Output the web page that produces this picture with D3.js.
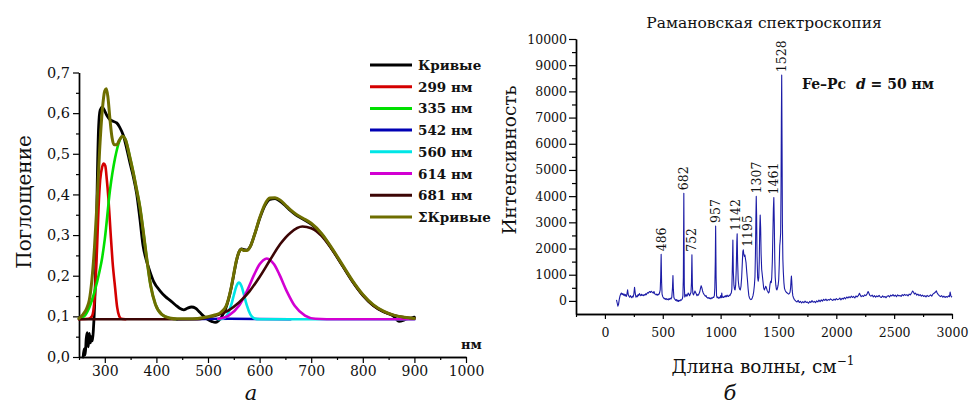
<!DOCTYPE html>
<html><head><meta charset="utf-8">
<script src="https://cdn.jsdelivr.net/npm/d3@7"></script>
<style>
body{margin:0;background:#fff}
svg{display:block}
text{font-family:"DejaVu Serif",serif;fill:#111}
</style>
</head><body>
<svg id="c" width="969" height="405"></svg>
<script>
// ---------------- DATA: left panel (absorption) ----------------
const absTicksX = [300,400,500,600,700,800,900,1000];
const absTicksY = [0,0.1,0.2,0.3,0.4,0.5,0.6,0.7];
const legendLabels = ["Кривые","299 нм","335 нм","542 нм","560 нм","614 нм","681 нм","ΣКривые"];

const curveMeasured = [[258,0.0],[260,0.02],[262,0.005],[264,0.045],[266,0.06],[268,0.025],[270,0.058],[272,0.035],[274,0.05],[276,0.04],[278,0.07],[280,0.12],[282,0.2],[284,0.33],[286,0.47],[288,0.565],[291,0.607],[295,0.615],[300,0.605],[305,0.592],[310,0.584],[316,0.58],[323,0.576],[329,0.565],[336,0.545],[342,0.515],[349,0.476],[355,0.445],[362,0.40],[368,0.34],[374,0.275],[380,0.24],[387,0.212],[395,0.185],[407,0.163],[418,0.148],[426,0.14],[437,0.128],[445,0.12],[453,0.116],[460,0.12],[468,0.123],[476,0.12],[484,0.11],[492,0.1],[500,0.092],[508,0.087],[514,0.085],[520,0.089],[527,0.1],[534,0.118],[545,0.17],[550,0.203],[555,0.236],[560,0.258],[565,0.266],[570,0.264],[575,0.263],[582,0.272],[590,0.3],[600,0.34],[610,0.372],[620,0.388],[630,0.39],[640,0.383],[650,0.372],[660,0.36],[670,0.35],[683,0.34],[700,0.327],[720,0.302],[740,0.266],[760,0.226],[780,0.186],[800,0.152],[820,0.127],[840,0.111],[860,0.1],[870,0.088],[878,0.09],[885,0.094],[893,0.095],[900,0.098]];
const curve299 = [[250,0.093],[268,0.094],[275,0.1],[280,0.14],[285,0.27],[288,0.37],[291,0.435],[295,0.468],[298,0.476],[301,0.47],[304,0.435],[307,0.39],[311,0.31],[315,0.235],[320,0.17],[324,0.122],[328,0.1],[332,0.094],[340,0.093]];
const curve335 = [[250,0.094],[260,0.1],[270,0.122],[280,0.16],[290,0.212],[295,0.245],[300,0.29],[310,0.41],[320,0.49],[328,0.53],[334,0.543],[340,0.535],[348,0.495],[355,0.455],[362,0.41],[368,0.37],[375,0.305],[380,0.255],[389,0.175],[398,0.13],[411,0.104],[425,0.096],[440,0.093]];
const curve542 = [[440,0.093],[542,0.094],[660,0.093]];
const curve560 = [[520,0.093],[530,0.095],[538,0.105],[545,0.128],[550,0.152],[555,0.174],[560,0.183],[565,0.174],[570,0.152],[575,0.128],[582,0.105],[590,0.095],[600,0.093],[900,0.093]];
const curve614 = [[520,0.094],[540,0.102],[560,0.126],[575,0.161],[590,0.204],[600,0.228],[607,0.238],[614,0.2425],[621,0.238],[628,0.228],[638,0.204],[653,0.161],[668,0.126],[688,0.102],[708,0.094],[730,0.093],[900,0.093]];
const curve681 = [[250,0.093],[480,0.093],[500,0.098],[520,0.104],[540,0.115],[560,0.134],[580,0.161],[600,0.197],[620,0.238],[640,0.278],[660,0.306],[683,0.321],[700,0.317],[720,0.298],[740,0.265],[760,0.226],[780,0.186],[800,0.152],[820,0.127],[840,0.112],[860,0.103],[880,0.098],[900,0.095]];
const curveSum = [[250,0.095],[258,0.105],[265,0.12],[270,0.14],[275,0.19],[280,0.27],[285,0.38],[290,0.51],[295,0.605],[300,0.655],[303,0.66],[306,0.64],[310,0.585],[314,0.54],[318,0.522],[323,0.522],[328,0.533],[334,0.543],[340,0.535],[348,0.495],[355,0.455],[362,0.41],[368,0.37],[375,0.305],[380,0.255],[389,0.175],[398,0.13],[411,0.104],[425,0.096],[440,0.094],[460,0.094],[480,0.095],[500,0.099],[515,0.104],[525,0.11],[535,0.125],[545,0.171],[550,0.205],[555,0.237],[560,0.258],[565,0.265],[570,0.262],[575,0.262],[582,0.272],[590,0.3],[600,0.342],[610,0.375],[620,0.391],[630,0.392],[640,0.386],[650,0.374],[660,0.362],[670,0.352],[683,0.342],[700,0.329],[720,0.304],[740,0.268],[760,0.228],[780,0.188],[800,0.154],[820,0.129],[840,0.113],[860,0.103],[880,0.098],[900,0.095]];

// ---------------- DATA: right panel (Raman) ----------------
const ramanTicksX = [0,500,1000,1500,2000,2500,3000];
const ramanTicksY = [0,1000,2000,3000,4000,5000,6000,7000,8000,9000,10000];
const ramanPeaks = [486,682,752,957,1142,1195,1307,1461,1528];
const ramanSpectrum = [[100,40],[106,-80],[112,-200],[118,-120],[124,60],[130,180],[136,260],[142,300],[148,240],[154,280],[160,220],[166,260],[172,200],[178,240],[184,170],[190,250],[196,420],[202,230],[208,180],[214,140],[220,200],[226,160],[232,120],[238,180],[244,150],[250,260],[256,520],[262,300],[268,140],[274,190],[280,160],[286,240],[292,200],[298,280],[304,230],[310,200],[316,250],[322,210],[328,230],[334,200],[340,240],[346,220],[352,270],[358,240],[364,290],[370,320],[376,300],[382,340],[388,360],[394,320],[400,370],[406,340],[412,330],[418,300],[424,360],[430,280],[436,250],[442,230],[448,260],[454,220],[460,250],[466,240],[472,300],[478,420],[482,900],[486,1780],[490,700],[494,260],[500,160],[506,120],[512,80],[518,100],[524,60],[530,90],[536,50],[542,70],[548,40],[554,90],[560,60],[566,100],[572,80],[578,140],[584,500],[588,970],[592,420],[596,140],[600,90],[606,60],[612,20],[618,50],[624,-10],[630,30],[636,-20],[642,20],[648,0],[654,40],[660,30],[666,60],[670,90],[674,200],[678,900],[682,4110],[686,600],[690,150],[696,200],[702,250],[708,180],[714,220],[720,300],[726,250],[732,200],[738,260],[744,330],[748,700],[752,1760],[756,600],[760,280],[766,230],[772,300],[778,380],[784,320],[790,260],[796,200],[802,240],[808,220],[814,280],[820,350],[826,480],[832,580],[838,500],[844,380],[850,300],[856,250],[862,220],[868,180],[874,200],[880,140],[886,120],[892,100],[898,130],[904,90],[910,110],[916,80],[922,120],[928,100],[934,140],[940,130],[946,200],[950,500],[954,1500],[957,2860],[961,900],[965,200],[970,120],[976,150],[982,100],[988,130],[994,110],[1000,200],[1006,120],[1010,300],[1014,140],[1020,150],[1026,130],[1032,180],[1038,150],[1044,200],[1050,160],[1056,220],[1062,180],[1068,170],[1074,220],[1080,200],[1086,260],[1092,300],[1097,450],[1102,1400],[1106,2320],[1110,1100],[1115,600],[1120,450],[1125,420],[1130,600],[1135,1200],[1140,2250],[1143,2560],[1147,1500],[1152,800],[1158,550],[1164,450],[1170,420],[1176,550],[1182,900],[1188,1500],[1192,1880],[1196,1950],[1200,1800],[1205,1700],[1210,1750],[1215,1600],[1220,1450],[1226,1100],[1232,800],[1238,450],[1244,200],[1250,110],[1256,70],[1262,50],[1268,60],[1274,120],[1280,200],[1286,350],[1292,600],[1297,930],[1301,1800],[1305,3200],[1308,3990],[1311,3300],[1315,1700],[1320,900],[1325,750],[1330,900],[1334,1500],[1338,2700],[1342,3280],[1346,2800],[1350,1800],[1355,1200],[1360,1000],[1366,750],[1372,500],[1378,420],[1384,480],[1390,560],[1396,500],[1402,400],[1408,360],[1414,300],[1420,340],[1426,600],[1432,750],[1438,700],[1442,900],[1447,1500],[1452,2600],[1456,3500],[1460,3950],[1464,3000],[1468,1600],[1472,900],[1477,600],[1482,450],[1487,420],[1492,500],[1497,600],[1502,800],[1507,1400],[1511,2100],[1515,2300],[1519,2600],[1522,4200],[1525,6800],[1528,8620],[1531,6000],[1534,3000],[1538,1600],[1542,1100],[1547,700],[1552,480],[1558,400],[1564,350],[1570,320],[1576,300],[1582,280],[1588,260],[1594,280],[1600,330],[1605,500],[1609,800],[1612,950],[1615,750],[1619,400],[1624,200],[1630,120],[1636,60],[1642,30],[1650,-10],[1660,-40],[1670,20],[1680,-60],[1690,-20],[1700,-80],[1710,-30],[1720,-70],[1730,-10],[1740,-60],[1750,-40],[1760,-90],[1770,-20],[1780,-60],[1790,10],[1800,-50],[1810,-20],[1820,-70],[1830,0],[1840,-40],[1850,30],[1860,-30],[1870,40],[1880,-10],[1890,60],[1900,20],[1910,70],[1920,10],[1930,50],[1940,30],[1950,80],[1960,40],[1970,20],[1980,70],[1990,30],[2000,90],[2010,50],[2020,60],[2030,110],[2040,40],[2050,100],[2060,70],[2070,130],[2080,80],[2090,150],[2100,110],[2110,160],[2120,120],[2130,180],[2140,130],[2150,170],[2160,110],[2170,190],[2180,150],[2190,200],[2200,290],[2208,220],[2215,160],[2225,200],[2235,170],[2245,230],[2255,200],[2265,260],[2275,360],[2282,290],[2290,210],[2300,180],[2310,220],[2320,150],[2330,200],[2340,140],[2350,190],[2360,160],[2370,210],[2380,150],[2390,130],[2400,190],[2410,140],[2420,170],[2430,120],[2440,180],[2450,200],[2460,150],[2470,220],[2480,190],[2490,240],[2500,180],[2510,220],[2520,160],[2530,230],[2540,190],[2550,210],[2560,170],[2570,240],[2580,200],[2590,250],[2600,210],[2610,240],[2620,190],[2630,260],[2640,230],[2650,300],[2660,380],[2668,330],[2675,260],[2685,300],[2695,220],[2705,260],[2715,200],[2725,240],[2735,180],[2745,220],[2755,170],[2765,200],[2775,150],[2785,210],[2795,170],[2805,190],[2815,230],[2825,180],[2835,260],[2845,290],[2855,330],[2865,380],[2872,300],[2880,250],[2890,200],[2900,160],[2910,200],[2920,140],[2930,180],[2940,130],[2950,170],[2960,140],[2970,190],[2978,160],[2984,340],[2990,200],[2996,150],[3000,170]];

// ---------------- STYLES ----------------
const curveColors = ["#000000","#d40000","#00e000","#0000b4","#00e6e6","#d200d2","#3c0505","#6e6e00"];
const curveWidths = [2.8,2.6,2.6,2.6,2.6,2.6,2.6,3];

const svg = d3.select("#c");
svg.append("rect").attr("width",969).attr("height",405).attr("fill","#fff");

function styleAxis(g, size){
  g.select(".domain").attr("stroke","#000").attr("stroke-width",1.4);
  g.selectAll(".tick line").attr("stroke","#000").attr("stroke-width",1.2);
  g.selectAll("text").attr("font-family","DejaVu Serif").attr("font-size",size).attr("fill","#111");
}

// ================= LEFT PANEL =================
const xL = d3.scaleLinear().domain([250,1000]).range([79,466]);
const yL = d3.scaleLinear().domain([0,0.7]).range([357,72.5]);
const gL = svg.append("g");

gL.append("g").attr("transform","translate(0,357)")
  .call(d3.axisBottom(xL).tickValues(d3.range(250,1001,50).filter(v=>v%100!==0)).tickSize(3).tickFormat("").tickSizeOuter(0))
  .call(g=>styleAxis(g,14));
gL.append("g").attr("transform","translate(0,357)")
  .call(d3.axisBottom(xL).tickValues(absTicksX).tickSize(6).tickPadding(3).tickSizeOuter(0).tickFormat(d3.format("d")))
  .call(g=>styleAxis(g,14));
gL.append("g").attr("transform","translate(79,0)")
  .call(d3.axisLeft(yL).tickValues(absTicksY.slice(0,-1).map(v=>v+0.05)).tickSize(3).tickFormat("").tickSizeOuter(0))
  .call(g=>styleAxis(g,14));
gL.append("g").attr("transform","translate(79,0)")
  .call(d3.axisLeft(yL).tickValues(absTicksY).tickSize(6).tickPadding(3).tickSizeOuter(0)
    .tickFormat(d=>d.toFixed(1).replace(".",",")))
  .call(g=>styleAxis(g,14.5));

const lineL = d3.line().x(d=>xL(d[0])).y(d=>yL(d[1])).curve(d3.curveMonotoneX);
const absCurves = [curveMeasured,curve299,curve335,curve542,curve560,curve614,curve681,curveSum];
absCurves.forEach((c,i)=>{
  gL.append("path").attr("d",lineL(c)).attr("fill","none")
    .attr("stroke",curveColors[i]).attr("stroke-width",curveWidths[i])
    .attr("stroke-linejoin","round").attr("stroke-linecap","round");
});

// legend
const leg = gL.append("g");
legendLabels.forEach((lab,i)=>{
  const y = 65 + i*21.7;
  leg.append("line").attr("x1",370).attr("x2",412).attr("y1",y).attr("y2",y)
    .attr("stroke",curveColors[i]).attr("stroke-width",3);
  leg.append("text").attr("x",418).attr("y",y+5).attr("font-size",13.5)
    .attr("font-weight","bold").text(lab);
});

gL.append("text").attr("x",461).attr("y",349).attr("font-size",13).attr("font-weight","bold").text("нм");
gL.append("text").attr("transform","translate(31,202) rotate(-90)").attr("text-anchor","middle")
  .attr("font-size",20).text("Поглощение");
gL.append("text").attr("x",251).attr("y",400).attr("text-anchor","middle")
  .attr("font-size",21).attr("font-style","italic").text("а");

// ================= RIGHT PANEL =================
const xR = d3.scaleLinear().domain([-250,3000]).range([576,952]);
const yR = d3.scaleLinear().domain([-500,10000]).range([314,39]);
const gR = svg.append("g");

gR.append("g").attr("transform","translate(0,314)")
  .call(d3.axisBottom(xR).tickValues(d3.range(-250,3001,250).filter(v=>v%500!==0)).tickSize(3).tickFormat("").tickSizeOuter(0))
  .call(g=>styleAxis(g,12));
gR.append("g").attr("transform","translate(0,314)")
  .call(d3.axisBottom(xR).tickValues(ramanTicksX).tickSize(5).tickPadding(9).tickSizeOuter(0).tickFormat(d3.format("d")))
  .call(g=>styleAxis(g,12.5));
gR.append("g").attr("transform","translate(576,0)")
  .call(d3.axisLeft(yR).tickValues(d3.range(500,10000,1000)).tickSize(4).tickFormat("").tickSizeOuter(0))
  .call(g=>styleAxis(g,12));
gR.append("g").attr("transform","translate(576,0)")
  .call(d3.axisLeft(yR).tickValues(ramanTicksY).tickSize(7).tickPadding(2).tickSizeOuter(0).tickFormat(d3.format("d")))
  .call(g=>styleAxis(g,12.5));

const lineR = d3.line().x(d=>xR(d[0])).y(d=>yR(d[1]));
gR.append("path").attr("d",lineR(ramanSpectrum)).attr("fill","none")
  .attr("stroke","#1c1ca6").attr("stroke-width",1.1).attr("stroke-linejoin","round");

const labelShift = {1142:-2,1195:4};
ramanPeaks.forEach(p=>{
  const near = ramanSpectrum.filter(d=>Math.abs(d[0]-p)<=6);
  const top = d3.max(near,d=>d[1]);
  const x = xR(p)+(labelShift[p]||0);
  gR.append("text").attr("transform",`translate(${x+4.5},${yR(top)-3}) rotate(-90)`)
    .attr("font-size",12.5).attr("fill","#111").text(p);
});

gR.append("text").attr("x",764).attr("y",28).attr("text-anchor","middle")
  .attr("font-size",15.5).text("Рамановская спектроскопия");
const fe = gR.append("text").attr("x",802).attr("y",89).attr("font-size",14).attr("font-weight","bold")
  .style("white-space","pre");
fe.append("tspan").text("Fe–Pc  ");
fe.append("tspan").attr("font-style","italic").text("d");
fe.append("tspan").text(" = 50 нм");

gR.append("text").attr("transform","translate(516,160) rotate(-90)").attr("text-anchor","middle")
  .attr("font-size",18.5).text("Интенсивность");
const xl = gR.append("text").attr("x",763).attr("y",373).attr("text-anchor","middle").attr("font-size",18.5);
xl.append("tspan").text("Длина волны, см");
xl.append("tspan").attr("font-size",12).attr("dy",-8).text("−1");
gR.append("text").attr("x",730).attr("y",400).attr("text-anchor","middle")
  .attr("font-size",21).attr("font-style","italic").text("б");
</script>
</body></html>
